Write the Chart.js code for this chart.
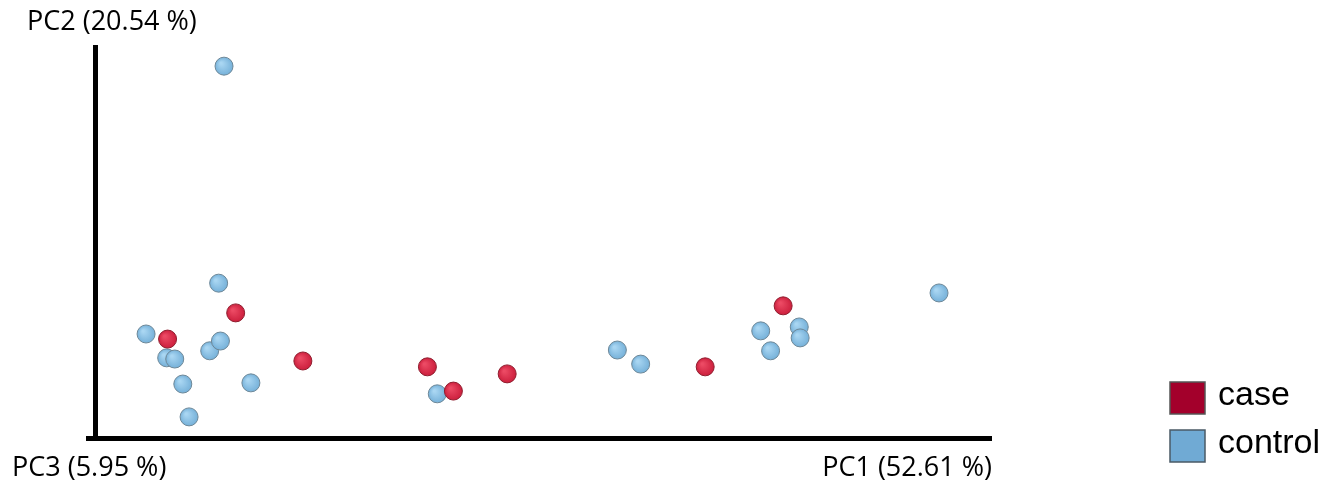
<!DOCTYPE html>
<html>
<head>
<meta charset="utf-8">
<title>PCoA case vs control</title>
<script src="https://cdn.jsdelivr.net/npm/chart.js@4.4.1/dist/chart.umd.min.js"></script>
<style>
    html, body { margin: 0; padding: 0; background: #fff; }
    #wrap { width: 1327px; height: 482px; position: relative; }
</style>
</head>
<body>
<div id="wrap"><canvas id="pcoa"></canvas></div>
<script>
// axis labels
const pc1Label = 'PC1 (52.61 %)';
const pc2Label = 'PC2 (20.54 %)';
const pc3Label = 'PC3 (5.95 %)';

// series names
const groupNames = ['case', 'control'];

// case samples (relative position along PC1 / PC2, 0-100)
const caseX = [8.1, 15.7, 23.2, 37.1, 40.0, 46.0, 68.1, 76.8];
const caseY = [25.3, 32.0, 19.7, 18.2, 12.0, 16.4, 18.2, 33.8];

// control samples
const controlX = [14.4, 13.8, 5.7, 8.0, 8.9, 9.8, 10.5, 12.8, 14.0, 17.4, 38.2, 58.3, 60.9, 74.3, 75.4, 78.6, 78.7, 94.2];
const controlY = [95.1, 39.6, 26.6, 20.5, 20.2, 13.8, 5.4, 22.3, 24.8, 14.1, 11.3, 22.5, 18.9, 27.4, 22.3, 28.4, 25.6, 37.1];

function toPoints(xs, ys) {
    return xs.map(function(x, i) { return { x: x, y: ys[i] }; });
}

// shaded "sphere" look for each marker
function sphereFill(light, base) {
    return function(ctx) {
        const chart = ctx.chart;
        if (!ctx.raw || !chart.scales.x) return base;
        const px = chart.scales.x.getPixelForValue(ctx.raw.x);
        const py = chart.scales.y.getPixelForValue(ctx.raw.y);
        if (!isFinite(px) || !isFinite(py)) return base;
        const g = chart.ctx.createRadialGradient(px - 3, py - 3, 1, px, py, 9);
        g.addColorStop(0, light);
        g.addColorStop(1, base);
        return g;
    };
}

const legendColors = [
    { fill: '#a3002b', stroke: '#555555' },
    { fill: '#70aad4', stroke: '#4a5a66' }
];

// labels around the axes + the box legend at the bottom right
const pcoaDecor = {
    id: 'pcoaDecor',
    beforeDraw: function(chart) {
        // x axis line runs a little past the y axis on the left
        const ctx = chart.ctx;
        const area = chart.chartArea;
        ctx.save();
        ctx.strokeStyle = '#000';
        ctx.lineWidth = 5;
        ctx.beginPath();
        ctx.moveTo(area.left - 9, area.bottom + 0.5);
        ctx.lineTo(area.left, area.bottom + 0.5);
        ctx.stroke();
        ctx.restore();
    },
    afterDraw: function(chart) {
        const ctx = chart.ctx;
        const area = chart.chartArea;
        ctx.save();
        ctx.fillStyle = '#000';
        ctx.font = '27px "Open Sans"';
        ctx.textBaseline = 'middle';
        ctx.textAlign = 'left';
        ctx.fillText(pc2Label, area.left - 68, 22);
        ctx.fillText(pc3Label, 12, area.bottom + 30);
        ctx.textAlign = 'right';
        ctx.fillText(pc1Label, area.right + 1, area.bottom + 30);

        ctx.font = '34px "Liberation Sans"';
        ctx.textAlign = 'left';
        groupNames.forEach(function(name, i) {
            const top = 382 + i * 48;
            ctx.fillStyle = legendColors[i].fill;
            ctx.fillRect(1170, top, 35, 32);
            ctx.strokeStyle = legendColors[i].stroke;
            ctx.lineWidth = 1.5;
            ctx.strokeRect(1170, top, 35, 32);
            ctx.fillStyle = '#000';
            ctx.fillText(name, 1218, top + 14);
        });
        ctx.restore();
    }
};

new Chart(document.getElementById('pcoa'), {
    type: 'scatter',
    data: {
        datasets: [
            {
                label: groupNames[0],
                data: toPoints(caseX, caseY),
                backgroundColor: sphereFill('#ec4a64', '#cc1f3d'),
                borderColor: '#8f1d2e',
                borderWidth: 1,
                pointRadius: 9,
                pointHoverRadius: 9
            },
            {
                label: groupNames[1],
                data: toPoints(controlX, controlY),
                backgroundColor: sphereFill('#a9d6f2', '#76b1d9'),
                borderColor: '#6d8797',
                borderWidth: 1,
                pointRadius: 9,
                pointHoverRadius: 9
            }
        ]
    },
    options: {
        responsive: true,
        maintainAspectRatio: false,
        animation: false,
        layout: {
            padding: { left: 95, top: 47, right: 336, bottom: 44 }
        },
        scales: {
            x: {
                type: 'linear',
                min: 0,
                max: 100,
                grid: { display: false, drawTicks: false },
                ticks: { display: false },
                border: { display: true, color: '#000', width: 5 }
            },
            y: {
                type: 'linear',
                min: 0,
                max: 100,
                grid: { display: false, drawTicks: false },
                ticks: { display: false },
                border: { display: true, color: '#000', width: 5 }
            }
        },
        plugins: {
            legend: { display: false },
            tooltip: { enabled: false }
        }
    },
    plugins: [pcoaDecor]
});
</script>
</body>
</html>
